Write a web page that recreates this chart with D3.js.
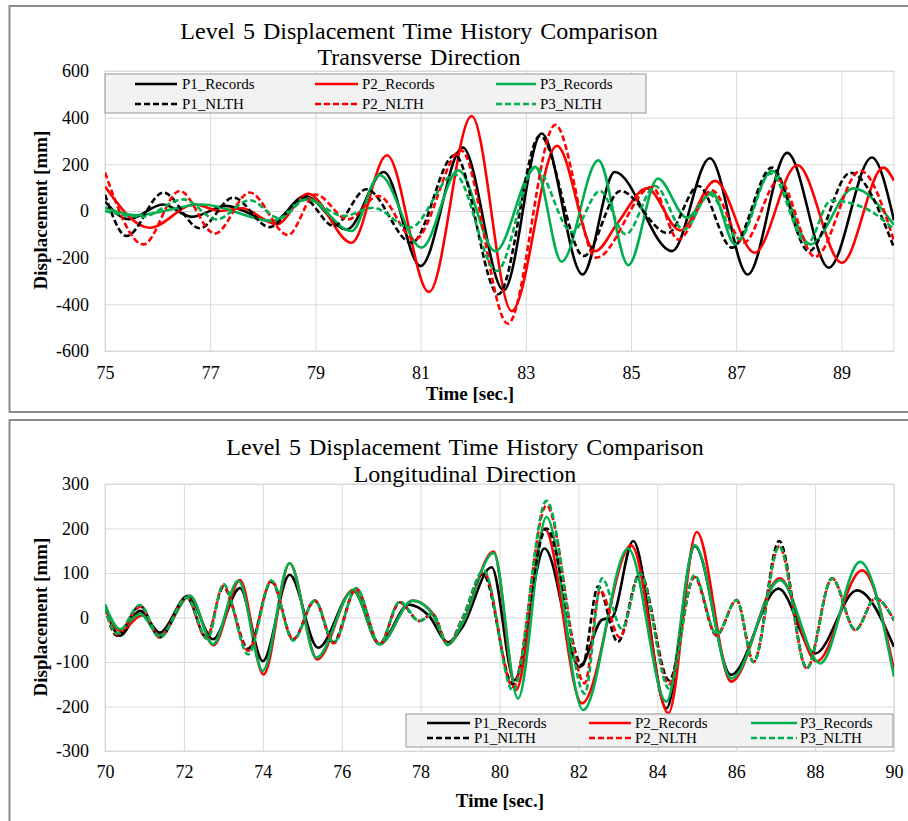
<!DOCTYPE html>
<html>
<head>
<meta charset="utf-8">
<script src="https://cdn.jsdelivr.net/npm/d3@7"></script>
<style>
  body { margin: 0; background: #fff; }
  svg { display: block; }
  svg text { font-family: "Liberation Serif", "Times New Roman", serif; }
</style>
</head>
<body>
<script>
// Series names, shared by both panels
const seriesNames = ["P1_Records", "P2_Records", "P3_Records", "P1_NLTH", "P2_NLTH", "P3_NLTH"];
const seriesColors = ["#000000", "#ff0000", "#00b050", "#000000", "#ff0000", "#00b050"];
const seriesDashed = [false, false, false, true, true, true];

// Transverse direction, [time, displacement mm] read at the peaks and troughs
const transP1Rec = [[75,40],[75.45,-35],[76.1,28],[76.65,-25],[77.3,22],[78.2,-45],[78.8,64],[79.6,-79],[80.3,167],[81.0,-236],[81.8,272],[82.58,-340],[83.3,332],[84.08,-272],[84.69,167],[85.78,-172],[86.5,226],[87.22,-272],[87.97,249],[88.76,-243],[89.58,229],[90,-40]];
const transP2Rec = [[75,105],[75.85,-72],[76.7,28],[77.2,0],[77.6,12],[78.26,-57],[78.86,74],[79.69,-136],[80.36,239],[81.16,-347],[81.97,407],[82.73,-429],[83.59,279],[84.32,-172],[84.75,-50],[85.3,97],[85.94,-83],[86.6,129],[87.35,-179],[88.16,197],[89.01,-222],[89.8,186],[90,130]];
const transP3Rec = [[75,15],[75.6,-18],[76.85,28],[78.2,-43],[78.83,54],[79.69,-86],[80.22,154],[81.02,-157],[81.72,174],[82.42,-172],[83.18,189],[83.68,-217],[84.38,217],[84.95,-232],[85.51,139],[86.06,-29],[86.54,80],[86.98,-143],[87.68,172],[88.41,-143],[89.23,97],[90,-60]];
const transP1Nlth = [[75,70],[75.41,-107],[76.11,79],[76.8,-74],[77.44,57],[78.13,-69],[78.77,55],[79.35,-64],[79.97,93],[80.83,-136],[81.65,240],[82.48,-357],[83.27,322],[84.1,-193],[84.8,86],[85.7,-95],[86.28,107],[86.92,-157],[87.68,186],[88.38,-172],[89.17,164],[90,-157]];
const transP2Nlth = [[75,165],[75.73,-143],[76.42,86],[77.09,-97],[77.75,79],[78.48,-103],[79.0,71],[79.62,-36],[80.2,64],[80.89,-122],[81.77,260],[82.66,-483],[83.56,369],[84.34,-200],[85.4,103],[85.9,-122],[86.54,89],[87.14,-136],[87.81,132],[88.5,-197],[89.36,172],[90,-129]];
const transP3Nlth = [[75,0],[75.7,-25],[76.49,50],[77.12,-36],[77.75,46],[78.32,-31],[78.83,50],[79.53,-21],[80.1,14],[80.8,-71],[81.65,157],[82.45,-257],[83.18,186],[83.88,-90],[84.41,86],[84.9,-100],[85.46,107],[86.0,-80],[86.5,70],[87.05,-120],[87.65,160],[88.35,-140],[88.8,45],[89.45,12],[90,-78]];

// Longitudinal direction
const longP1Rec = [[70,25],[70.38,-41],[70.89,15],[71.39,-34],[72.1,49],[72.74,-49],[73.42,66],[74.0,-98],[74.68,96],[75.4,-68],[76.29,60],[76.96,-60],[77.7,29],[78.2,5],[78.7,-56],[79.05,-23],[79.8,113],[80.38,-141],[81.14,155],[82.03,-111],[82.6,-5],[82.85,0],[83.39,172],[84.23,-204],[84.95,160],[85.87,-129],[87.07,65],[88.0,-81],[89.06,61],[90,-66]];
const longP2Rec = [[70,23],[70.38,-30],[70.95,5],[71.39,-40],[72.15,49],[72.75,-62],[73.42,84],[74.02,-128],[74.68,122],[75.38,-94],[76.29,62],[76.96,-60],[77.8,38],[78.3,10],[78.7,-60],[79.05,-15],[79.85,148],[80.42,-163],[81.14,200],[82.09,-193],[83.34,162],[84.28,-215],[85.0,192],[85.87,-144],[87.11,88],[88.04,-99],[89.19,106],[90,-118]];
const longP3Rec = [[70,30],[70.38,-26],[70.89,8],[71.39,-41],[72.15,49],[72.74,-60],[73.38,83],[74.0,-120],[74.68,122],[75.36,-90],[76.29,60],[76.96,-60],[77.8,38],[78.3,8],[78.7,-60],[79.05,-15],[79.85,145],[80.47,-182],[81.19,226],[82.12,-208],[83.26,155],[84.23,-189],[84.95,162],[85.88,-137],[87.11,84],[88.13,-103],[89.14,125],[90,-133]];
const longP1Nlth = [[70,23],[70.3,-41],[70.89,26],[71.39,-45],[72.07,45],[72.57,-45],[73.0,68],[73.63,-70],[74.22,80],[74.77,-49],[75.32,38],[75.78,-56],[76.37,64],[76.96,-60],[77.47,34],[77.97,-8],[78.3,8],[78.69,-60],[79.07,0],[79.58,98],[80.34,-150],[81.19,200],[82.1,-107],[82.5,70],[83.0,-55],[83.56,99],[84.3,-141],[84.94,91],[85.5,-40],[86.01,39],[86.44,-100],[87.09,172],[87.79,-114],[88.43,88],[89.02,-28],[89.53,43],[90,-6]];
const longP2Nlth = [[70,23],[70.3,-38],[70.89,24],[71.39,-45],[72.07,45],[72.57,-47],[73.0,71],[73.63,-75],[74.22,83],[74.77,-49],[75.32,38],[75.8,-58],[76.37,64],[76.96,-60],[77.47,34],[77.97,-8],[78.3,8],[78.69,-60],[79.07,0],[79.6,102],[80.34,-156],[81.19,252],[82.16,-148],[82.55,61],[83.05,-45],[83.56,99],[84.3,-150],[84.94,91],[85.5,-40],[86.01,39],[86.44,-100],[87.09,160],[87.79,-114],[88.43,88],[89.02,-28],[89.53,43],[90,-6]];
const longP3Nlth = [[70,23],[70.3,-36],[70.89,28],[71.39,-45],[72.07,45],[72.6,-48],[73.0,75],[73.63,-83],[74.22,83],[74.77,-52],[75.32,38],[75.8,-56],[76.37,66],[76.96,-60],[77.47,36],[77.97,-8],[78.3,8],[78.69,-62],[79.07,0],[79.6,106],[80.34,-165],[81.19,262],[82.16,-171],[82.6,88],[83.1,-25],[83.56,99],[84.3,-160],[84.94,95],[85.5,-38],[86.01,39],[86.44,-100],[87.09,160],[87.79,-114],[88.43,88],[89.02,-28],[89.53,43],[90,-6]];

// Axes
const transXTicks = [75, 77, 79, 81, 83, 85, 87, 89];
const transYTicks = [-600, -400, -200, 0, 200, 400, 600];
const longXTicks = [70, 72, 74, 76, 78, 80, 82, 84, 86, 88, 90];
const longYTicks = [-300, -200, -100, 0, 100, 200, 300];

const transTitle = ["Level 5 Displacement Time History Comparison", "Transverse Direction"];
const longTitle = ["Level 5 Displacement Time History Comparison", "Longitudinal Direction"];
const xLabel = "Time [sec.]";
const yLabel = "Displacement [mm]";

const FONT = '"Liberation Serif", "Times New Roman", serif';

const width = 908;
const height = 821;

const svg = d3.select("body")
    .append("svg")
    .attr("width", width)
    .attr("height", height)
    .attr("font-family", FONT);

const panels = [
    {
        id: "trans", title: transTitle, series: [transP1Rec, transP2Rec, transP3Rec, transP1Nlth, transP2Nlth, transP3Nlth],
        xDomain: [75, 90], yDomain: [-600, 600], xTicks: transXTicks, yTicks: transYTicks,
        box: { x: 9.5, y: 6, h: 406 },
        plot: { left: 105, right: 894, top: 71, bottom: 351 },
        titleX: 419, titleY: [38.5, 65],
        xTitle: { x: 470, y: 400 }, yTitle: { x: 47, y: 210 }, xPad: 15,
        legend: { x: 105, y: 74, w: 541, h: 39, rows: [84, 104], cols: [[135, 177, 182], [315, 358, 362], [496, 536, 540]] }
    },
    {
        id: "long", title: longTitle, series: [longP1Rec, longP2Rec, longP3Rec, longP1Nlth, longP2Nlth, longP3Nlth],
        xDomain: [70, 90], yDomain: [-300, 300], xTicks: longXTicks, yTicks: longYTicks,
        box: { x: 9.5, y: 420, h: 420 },
        plot: { left: 105, right: 894, top: 484, bottom: 751 },
        titleX: 465, titleY: [455, 482],
        xTitle: { x: 500, y: 807 }, yTitle: { x: 47, y: 617 }, xPad: 14,
        legend: { x: 406, y: 714, w: 487, h: 33, rows: [723, 738], cols: [[427, 470, 474], [589, 631, 635], [751, 797, 800]] }
    }
];

panels.forEach(p => {
    // panel frame
    svg.append("rect")
        .attr("x", p.box.x)
        .attr("y", p.box.y)
        .attr("width", width + 20)
        .attr("height", p.box.h)
        .attr("fill", "none")
        .attr("stroke", "#8c8c8c")
        .attr("stroke-width", 2);

    const w = p.plot.right - p.plot.left;
    const h = p.plot.bottom - p.plot.top;
    const x = d3.scaleLinear().domain(p.xDomain).range([0, w]);
    const y = d3.scaleLinear().domain(p.yDomain).range([h, 0]);

    const g = svg.append("g").attr("transform", `translate(${p.plot.left},${p.plot.top})`);

    // gridlines + tick labels through d3 axes
    const yAxis = d3.axisLeft(y).tickValues(p.yTicks).tickSize(-w).tickPadding(16).tickFormat(d => String(d));
    const yg = g.append("g").call(yAxis);
    const xAxis = d3.axisBottom(x).tickValues(p.xTicks).tickSize(-h).tickPadding(p.xPad).tickFormat(d => String(d));
    const xg = g.append("g").attr("transform", `translate(0,${h})`).call(xAxis);

    [yg, xg].forEach(a => {
        a.attr("font-family", FONT).attr("font-size", 18);
        a.select(".domain").remove();
        a.selectAll(".tick line").attr("stroke", "#d9d9d9").attr("stroke-width", 1);
        a.selectAll(".tick text").attr("fill", "#000");
    });

    g.append("rect")
        .attr("x", 0).attr("y", 0)
        .attr("width", w).attr("height", h)
        .attr("fill", "none")
        .attr("stroke", "#d9d9d9");

    // curves
    g.append("clipPath").attr("id", "clip-" + p.id)
        .append("rect").attr("width", w).attr("height", h);

    const line = d3.line()
        .x(d => x(d[0]))
        .y(d => y(d[1]))
        .curve(d3.curveMonotoneX);

    const lines = g.append("g").attr("clip-path", `url(#clip-${p.id})`);
    p.series.forEach((s, i) => {
        lines.append("path")
            .datum(s)
            .attr("d", line)
            .attr("fill", "none")
            .attr("stroke", seriesColors[i])
            .attr("stroke-width", 2.6)
            .attr("stroke-dasharray", seriesDashed[i] ? "6,3" : null);
    });

    // titles
    p.title.forEach((t, i) => {
        svg.append("text")
            .attr("x", p.titleX)
            .attr("y", p.titleY[i])
            .attr("text-anchor", "middle")
            .style("font-size", "24px")
            .style("word-spacing", "2px")
            .text(t);
    });

    svg.append("text")
        .attr("x", p.xTitle.x)
        .attr("y", p.xTitle.y)
        .attr("text-anchor", "middle")
        .style("font-size", "19px")
        .style("font-weight", "bold")
        .text(xLabel);

    svg.append("text")
        .attr("transform", `translate(${p.yTitle.x},${p.yTitle.y}) rotate(-90)`)
        .attr("text-anchor", "middle")
        .style("font-size", "19px")
        .style("font-weight", "bold")
        .text(yLabel);

    // legend
    const L = p.legend;
    svg.append("rect")
        .attr("x", L.x).attr("y", L.y)
        .attr("width", L.w).attr("height", L.h)
        .attr("fill", "#f2f2f2")
        .attr("stroke", "#a6a6a6")
        .attr("stroke-width", 1.2);

    seriesNames.forEach((name, i) => {
        const col = L.cols[i % 3];
        const rowY = L.rows[Math.floor(i / 3)];
        svg.append("line")
            .attr("x1", col[0]).attr("x2", col[1])
            .attr("y1", rowY).attr("y2", rowY)
            .attr("stroke", seriesColors[i])
            .attr("stroke-width", 2.6)
            .attr("stroke-dasharray", seriesDashed[i] ? "6,3" : null);
        svg.append("text")
            .attr("x", col[2])
            .attr("y", rowY + 5)
            .style("font-size", "15px")
            .text(name);
    });
});
</script>
</body>
</html>
